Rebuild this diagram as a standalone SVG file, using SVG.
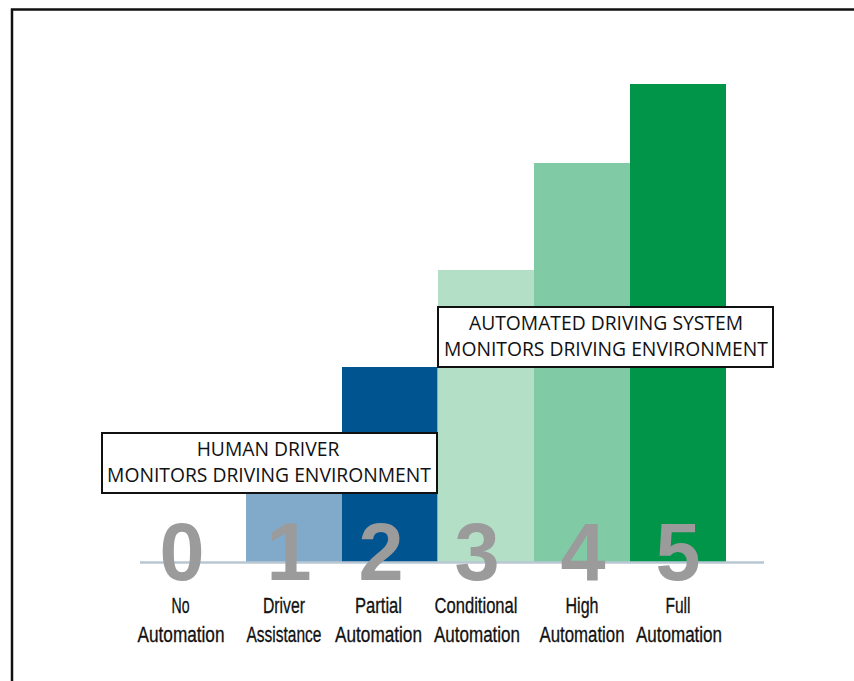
<svg xmlns="http://www.w3.org/2000/svg" width="854" height="681" viewBox="0 0 854 681">
  <style>
    .frame { fill: none; stroke: #111; stroke-width: 2.5; }
    .box { fill: #fff; stroke: #111; stroke-width: 2; }
    .boxtext { font-family: "Open Sans", "Liberation Sans", sans-serif; font-size: 19.3px; fill: #111; text-anchor: middle; }
    .digit { font-family: "Liberation Sans", Arial, sans-serif; font-weight: bold; font-size: 81px; fill: #9b9b9b; text-anchor: middle; }
    .label { font-family: "Liberation Sans", Arial, sans-serif; font-size: 21.5px; fill: #111; text-anchor: middle; stroke: #111; stroke-width: 0.3; }
  </style>

  <!-- outer frame (open at right and bottom) -->
  <rect class="frame" x="12" y="9.5" width="860" height="700"/>

  <!-- level bars -->
  <g id="bars">
    <rect id="bar1" x="246" y="460" width="96" height="102" fill="#80a9ca"/>
    <rect id="bar2" x="342" y="367" width="95.5" height="195" fill="#005591"/>
    <rect id="bar3" x="438" y="270" width="96" height="292" fill="#b3dfc7"/>
    <rect id="bar4" x="534" y="163" width="96" height="399" fill="#80cba5"/>
    <rect id="bar5" x="630" y="84" width="96" height="478" fill="#009548"/>
  </g>

  <!-- baseline -->
  <line x1="140" y1="562.5" x2="764" y2="562.5" stroke="#b9c7d3" stroke-width="2.5"/>

  <!-- level numbers -->
  <g id="digits">
    <text class="digit" x="182" y="580">0</text>
    <text class="digit" x="289" y="580">1</text>
    <text class="digit" x="381" y="580">2</text>
    <text class="digit" x="477" y="580">3</text>
    <text class="digit" x="583" y="580">4</text>
    <text class="digit" x="678" y="580">5</text>
  </g>

  <!-- level names, condensed to fit under each bar -->
  <g id="labels">
    <text class="label" x="180.5" y="613" textLength="18" lengthAdjust="spacingAndGlyphs">No</text>
    <text class="label" x="181" y="641.5" textLength="87" lengthAdjust="spacingAndGlyphs">Automation</text>
    <text class="label" x="284" y="613" textLength="42" lengthAdjust="spacingAndGlyphs">Driver</text>
    <text class="label" x="284" y="641.5" textLength="75" lengthAdjust="spacingAndGlyphs">Assistance</text>
    <text class="label" x="378.5" y="613" textLength="47" lengthAdjust="spacingAndGlyphs">Partial</text>
    <text class="label" x="378.5" y="641.5" textLength="87" lengthAdjust="spacingAndGlyphs">Automation</text>
    <text class="label" x="476" y="613" textLength="83" lengthAdjust="spacingAndGlyphs">Conditional</text>
    <text class="label" x="477" y="641.5" textLength="86" lengthAdjust="spacingAndGlyphs">Automation</text>
    <text class="label" x="582" y="613" textLength="33" lengthAdjust="spacingAndGlyphs">High</text>
    <text class="label" x="582" y="641.5" textLength="85" lengthAdjust="spacingAndGlyphs">Automation</text>
    <text class="label" x="678" y="613" textLength="25" lengthAdjust="spacingAndGlyphs">Full</text>
    <text class="label" x="679" y="641.5" textLength="86" lengthAdjust="spacingAndGlyphs">Automation</text>
  </g>

  <!-- monitoring boxes -->
  <g id="human-box">
    <rect class="box" x="102" y="433" width="335" height="60"/>
    <text class="boxtext" x="268" y="456">HUMAN DRIVER</text>
    <text class="boxtext" x="269" y="482">MONITORS DRIVING ENVIRONMENT</text>
  </g>
  <g id="system-box">
    <rect class="box" x="438" y="307" width="335" height="60"/>
    <text class="boxtext" x="606" y="329.5">AUTOMATED DRIVING SYSTEM</text>
    <text class="boxtext" x="606" y="356">MONITORS DRIVING ENVIRONMENT</text>
  </g>
</svg>
